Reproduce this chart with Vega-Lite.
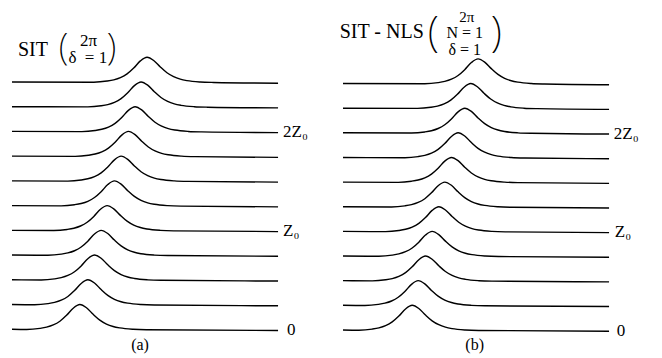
{
  "$schema": "https://vega.github.io/schema/vega-lite/v6.json",
  "padding": 0,
  "spacing": 0,
  "bounds": "flush",
  "config": {"view": {"stroke": null}, "text": {"font": "Liberation Serif", "color": "black"}},
  "datasets": {
    "curvesA": [
      {"k":0,"t":-5,"y":0.03},{"k":0,"t":-3.9,"y":0.021},{"k":0,"t":-2.9,"y":0.066},{"k":0,"t":-2.4,"y":0.116},{"k":0,"t":-1.9,"y":0.205},{"k":0,"t":-1.4,"y":0.356},{"k":0,"t":-0.9,"y":0.593},{"k":0,"t":-0.4,"y":0.881},{"k":0,"t":0.1,"y":1.03},{"k":0,"t":0.6,"y":0.9},{"k":0,"t":1.1,"y":0.635},{"k":0,"t":1.6,"y":0.401},{"k":0,"t":2.1,"y":0.242},{"k":0,"t":2.6,"y":0.143},{"k":0,"t":3.1,"y":0.085},{"k":0,"t":4.1,"y":0.029},{"k":0,"t":5.1,"y":0.01},{"k":0,"t":15,"y":-0.02},
      {"k":1,"t":-5,"y":1.03},{"k":1,"t":-3.3,"y":1.021},{"k":1,"t":-2.3,"y":1.066},{"k":1,"t":-1.8,"y":1.116},{"k":1,"t":-1.3,"y":1.205},{"k":1,"t":-0.8,"y":1.356},{"k":1,"t":-0.3,"y":1.593},{"k":1,"t":0.2,"y":1.881},{"k":1,"t":0.7,"y":2.03},{"k":1,"t":1.2,"y":1.9},{"k":1,"t":1.7,"y":1.635},{"k":1,"t":2.2,"y":1.401},{"k":1,"t":2.7,"y":1.242},{"k":1,"t":3.2,"y":1.143},{"k":1,"t":3.7,"y":1.085},{"k":1,"t":4.7,"y":1.029},{"k":1,"t":5.7,"y":1.01},{"k":1,"t":15,"y":0.98},
      {"k":2,"t":-5,"y":2.03},{"k":2,"t":-2.8,"y":2.021},{"k":2,"t":-1.8,"y":2.066},{"k":2,"t":-1.3,"y":2.116},{"k":2,"t":-0.8,"y":2.205},{"k":2,"t":-0.3,"y":2.356},{"k":2,"t":0.2,"y":2.593},{"k":2,"t":0.7,"y":2.881},{"k":2,"t":1.2,"y":3.03},{"k":2,"t":1.7,"y":2.9},{"k":2,"t":2.2,"y":2.635},{"k":2,"t":2.7,"y":2.401},{"k":2,"t":3.2,"y":2.242},{"k":2,"t":3.7,"y":2.143},{"k":2,"t":4.2,"y":2.085},{"k":2,"t":5.2,"y":2.029},{"k":2,"t":6.2,"y":2.01},{"k":2,"t":15,"y":1.98},
      {"k":3,"t":-5,"y":3.03},{"k":3,"t":-2.3,"y":3.021},{"k":3,"t":-1.3,"y":3.066},{"k":3,"t":-0.8,"y":3.116},{"k":3,"t":-0.3,"y":3.205},{"k":3,"t":0.2,"y":3.356},{"k":3,"t":0.7,"y":3.593},{"k":3,"t":1.2,"y":3.881},{"k":3,"t":1.7,"y":4.03},{"k":3,"t":2.2,"y":3.9},{"k":3,"t":2.7,"y":3.635},{"k":3,"t":3.2,"y":3.401},{"k":3,"t":3.7,"y":3.242},{"k":3,"t":4.2,"y":3.143},{"k":3,"t":4.7,"y":3.085},{"k":3,"t":5.7,"y":3.029},{"k":3,"t":6.7,"y":3.01},{"k":3,"t":15,"y":2.98},
      {"k":4,"t":-5,"y":4.03},{"k":4,"t":-1.85,"y":4.021},{"k":4,"t":-0.85,"y":4.066},{"k":4,"t":-0.35,"y":4.116},{"k":4,"t":0.15,"y":4.205},{"k":4,"t":0.65,"y":4.356},{"k":4,"t":1.15,"y":4.593},{"k":4,"t":1.65,"y":4.881},{"k":4,"t":2.15,"y":5.03},{"k":4,"t":2.65,"y":4.9},{"k":4,"t":3.15,"y":4.635},{"k":4,"t":3.65,"y":4.401},{"k":4,"t":4.15,"y":4.242},{"k":4,"t":4.65,"y":4.143},{"k":4,"t":5.15,"y":4.085},{"k":4,"t":6.15,"y":4.029},{"k":4,"t":7.15,"y":4.01},{"k":4,"t":15,"y":3.98},
      {"k":5,"t":-5,"y":5.03},{"k":5,"t":-1.3,"y":5.021},{"k":5,"t":-0.3,"y":5.066},{"k":5,"t":0.2,"y":5.116},{"k":5,"t":0.7,"y":5.205},{"k":5,"t":1.2,"y":5.356},{"k":5,"t":1.7,"y":5.593},{"k":5,"t":2.2,"y":5.881},{"k":5,"t":2.7,"y":6.03},{"k":5,"t":3.2,"y":5.9},{"k":5,"t":3.7,"y":5.635},{"k":5,"t":4.2,"y":5.401},{"k":5,"t":4.7,"y":5.242},{"k":5,"t":5.2,"y":5.143},{"k":5,"t":5.7,"y":5.085},{"k":5,"t":6.7,"y":5.029},{"k":5,"t":7.7,"y":5.01},{"k":5,"t":15,"y":4.98},
      {"k":6,"t":-5,"y":6.03},{"k":6,"t":-0.8,"y":6.021},{"k":6,"t":0.2,"y":6.066},{"k":6,"t":0.7,"y":6.116},{"k":6,"t":1.2,"y":6.205},{"k":6,"t":1.7,"y":6.356},{"k":6,"t":2.2,"y":6.593},{"k":6,"t":2.7,"y":6.881},{"k":6,"t":3.2,"y":7.03},{"k":6,"t":3.7,"y":6.9},{"k":6,"t":4.2,"y":6.635},{"k":6,"t":4.7,"y":6.401},{"k":6,"t":5.2,"y":6.242},{"k":6,"t":5.7,"y":6.143},{"k":6,"t":6.2,"y":6.085},{"k":6,"t":7.2,"y":6.029},{"k":6,"t":8.2,"y":6.01},{"k":6,"t":15,"y":5.98},
      {"k":7,"t":-5,"y":7.03},{"k":7,"t":-0.25,"y":7.021},{"k":7,"t":0.75,"y":7.066},{"k":7,"t":1.25,"y":7.116},{"k":7,"t":1.75,"y":7.205},{"k":7,"t":2.25,"y":7.356},{"k":7,"t":2.75,"y":7.593},{"k":7,"t":3.25,"y":7.881},{"k":7,"t":3.75,"y":8.03},{"k":7,"t":4.25,"y":7.9},{"k":7,"t":4.75,"y":7.635},{"k":7,"t":5.25,"y":7.401},{"k":7,"t":5.75,"y":7.242},{"k":7,"t":6.25,"y":7.143},{"k":7,"t":6.75,"y":7.085},{"k":7,"t":7.75,"y":7.029},{"k":7,"t":8.75,"y":7.01},{"k":7,"t":15,"y":6.98},
      {"k":8,"t":-5,"y":8.03},{"k":8,"t":0.25,"y":8.021},{"k":8,"t":1.25,"y":8.066},{"k":8,"t":1.75,"y":8.116},{"k":8,"t":2.25,"y":8.205},{"k":8,"t":2.75,"y":8.356},{"k":8,"t":3.25,"y":8.593},{"k":8,"t":3.75,"y":8.881},{"k":8,"t":4.25,"y":9.03},{"k":8,"t":4.75,"y":8.9},{"k":8,"t":5.25,"y":8.635},{"k":8,"t":5.75,"y":8.401},{"k":8,"t":6.25,"y":8.242},{"k":8,"t":6.75,"y":8.143},{"k":8,"t":7.25,"y":8.085},{"k":8,"t":8.25,"y":8.029},{"k":8,"t":9.25,"y":8.01},{"k":8,"t":15,"y":7.98},
      {"k":9,"t":-5,"y":9.03},{"k":9,"t":0.7,"y":9.021},{"k":9,"t":1.7,"y":9.066},{"k":9,"t":2.2,"y":9.116},{"k":9,"t":2.7,"y":9.205},{"k":9,"t":3.2,"y":9.356},{"k":9,"t":3.7,"y":9.593},{"k":9,"t":4.2,"y":9.881},{"k":9,"t":4.7,"y":10.03},{"k":9,"t":5.2,"y":9.9},{"k":9,"t":5.7,"y":9.635},{"k":9,"t":6.2,"y":9.401},{"k":9,"t":6.7,"y":9.242},{"k":9,"t":7.2,"y":9.143},{"k":9,"t":7.7,"y":9.085},{"k":9,"t":8.7,"y":9.029},{"k":9,"t":9.7,"y":9.01},{"k":9,"t":15,"y":8.98},
      {"k":10,"t":-5,"y":10.03},{"k":10,"t":1.15,"y":10.021},{"k":10,"t":2.15,"y":10.066},{"k":10,"t":2.65,"y":10.116},{"k":10,"t":3.15,"y":10.205},{"k":10,"t":3.65,"y":10.356},{"k":10,"t":4.15,"y":10.593},{"k":10,"t":4.65,"y":10.881},{"k":10,"t":5.15,"y":11.03},{"k":10,"t":5.65,"y":10.9},{"k":10,"t":6.15,"y":10.635},{"k":10,"t":6.65,"y":10.401},{"k":10,"t":7.15,"y":10.242},{"k":10,"t":7.65,"y":10.143},{"k":10,"t":8.15,"y":10.085},{"k":10,"t":9.15,"y":10.029},{"k":10,"t":10.15,"y":10.01},{"k":10,"t":15,"y":9.98}
    ],
    "curvesB": [
      {"k":0,"t":-5,"y":0.03},{"k":0,"t":-3.8,"y":0.021},{"k":0,"t":-2.8,"y":0.066},{"k":0,"t":-2.3,"y":0.116},{"k":0,"t":-1.8,"y":0.205},{"k":0,"t":-1.3,"y":0.356},{"k":0,"t":-0.8,"y":0.593},{"k":0,"t":-0.3,"y":0.881},{"k":0,"t":0.2,"y":1.03},{"k":0,"t":0.7,"y":0.9},{"k":0,"t":1.2,"y":0.635},{"k":0,"t":1.7,"y":0.401},{"k":0,"t":2.2,"y":0.242},{"k":0,"t":2.7,"y":0.143},{"k":0,"t":3.2,"y":0.085},{"k":0,"t":4.2,"y":0.029},{"k":0,"t":5.2,"y":0.01},{"k":0,"t":15,"y":-0.02},
      {"k":1,"t":-5,"y":1.03},{"k":1,"t":-3.35,"y":1.021},{"k":1,"t":-2.35,"y":1.066},{"k":1,"t":-1.85,"y":1.116},{"k":1,"t":-1.35,"y":1.205},{"k":1,"t":-0.85,"y":1.356},{"k":1,"t":-0.35,"y":1.593},{"k":1,"t":0.15,"y":1.881},{"k":1,"t":0.65,"y":2.03},{"k":1,"t":1.15,"y":1.9},{"k":1,"t":1.65,"y":1.635},{"k":1,"t":2.15,"y":1.401},{"k":1,"t":2.65,"y":1.242},{"k":1,"t":3.15,"y":1.143},{"k":1,"t":3.65,"y":1.085},{"k":1,"t":4.65,"y":1.029},{"k":1,"t":5.65,"y":1.01},{"k":1,"t":15,"y":0.98},
      {"k":2,"t":-5,"y":2.03},{"k":2,"t":-2.8,"y":2.021},{"k":2,"t":-1.8,"y":2.066},{"k":2,"t":-1.3,"y":2.116},{"k":2,"t":-0.8,"y":2.205},{"k":2,"t":-0.3,"y":2.356},{"k":2,"t":0.2,"y":2.593},{"k":2,"t":0.7,"y":2.881},{"k":2,"t":1.2,"y":3.03},{"k":2,"t":1.7,"y":2.9},{"k":2,"t":2.2,"y":2.635},{"k":2,"t":2.7,"y":2.401},{"k":2,"t":3.2,"y":2.242},{"k":2,"t":3.7,"y":2.143},{"k":2,"t":4.2,"y":2.085},{"k":2,"t":5.2,"y":2.029},{"k":2,"t":6.2,"y":2.01},{"k":2,"t":15,"y":1.98},
      {"k":3,"t":-5,"y":3.03},{"k":3,"t":-2.3,"y":3.021},{"k":3,"t":-1.3,"y":3.066},{"k":3,"t":-0.8,"y":3.116},{"k":3,"t":-0.3,"y":3.205},{"k":3,"t":0.2,"y":3.356},{"k":3,"t":0.7,"y":3.593},{"k":3,"t":1.2,"y":3.881},{"k":3,"t":1.7,"y":4.03},{"k":3,"t":2.2,"y":3.9},{"k":3,"t":2.7,"y":3.635},{"k":3,"t":3.2,"y":3.401},{"k":3,"t":3.7,"y":3.242},{"k":3,"t":4.2,"y":3.143},{"k":3,"t":4.7,"y":3.085},{"k":3,"t":5.7,"y":3.029},{"k":3,"t":6.7,"y":3.01},{"k":3,"t":15,"y":2.98},
      {"k":4,"t":-5,"y":4.03},{"k":4,"t":-1.8,"y":4.021},{"k":4,"t":-0.8,"y":4.066},{"k":4,"t":-0.3,"y":4.116},{"k":4,"t":0.2,"y":4.205},{"k":4,"t":0.7,"y":4.356},{"k":4,"t":1.2,"y":4.593},{"k":4,"t":1.7,"y":4.881},{"k":4,"t":2.2,"y":5.03},{"k":4,"t":2.7,"y":4.9},{"k":4,"t":3.2,"y":4.635},{"k":4,"t":3.7,"y":4.401},{"k":4,"t":4.2,"y":4.242},{"k":4,"t":4.7,"y":4.143},{"k":4,"t":5.2,"y":4.085},{"k":4,"t":6.2,"y":4.029},{"k":4,"t":7.2,"y":4.01},{"k":4,"t":15,"y":3.98},
      {"k":5,"t":-5,"y":5.03},{"k":5,"t":-1.35,"y":5.021},{"k":5,"t":-0.35,"y":5.066},{"k":5,"t":0.15,"y":5.116},{"k":5,"t":0.65,"y":5.205},{"k":5,"t":1.15,"y":5.356},{"k":5,"t":1.65,"y":5.593},{"k":5,"t":2.15,"y":5.881},{"k":5,"t":2.65,"y":6.03},{"k":5,"t":3.15,"y":5.9},{"k":5,"t":3.65,"y":5.635},{"k":5,"t":4.15,"y":5.401},{"k":5,"t":4.65,"y":5.242},{"k":5,"t":5.15,"y":5.143},{"k":5,"t":5.65,"y":5.085},{"k":5,"t":6.65,"y":5.029},{"k":5,"t":7.65,"y":5.01},{"k":5,"t":15,"y":4.98},
      {"k":6,"t":-5,"y":6.03},{"k":6,"t":-0.85,"y":6.021},{"k":6,"t":0.15,"y":6.066},{"k":6,"t":0.65,"y":6.116},{"k":6,"t":1.15,"y":6.205},{"k":6,"t":1.65,"y":6.356},{"k":6,"t":2.15,"y":6.593},{"k":6,"t":2.65,"y":6.881},{"k":6,"t":3.15,"y":7.03},{"k":6,"t":3.65,"y":6.9},{"k":6,"t":4.15,"y":6.635},{"k":6,"t":4.65,"y":6.401},{"k":6,"t":5.15,"y":6.242},{"k":6,"t":5.65,"y":6.143},{"k":6,"t":6.15,"y":6.085},{"k":6,"t":7.15,"y":6.029},{"k":6,"t":8.15,"y":6.01},{"k":6,"t":15,"y":5.98},
      {"k":7,"t":-5,"y":7.03},{"k":7,"t":-0.35,"y":7.021},{"k":7,"t":0.65,"y":7.066},{"k":7,"t":1.15,"y":7.116},{"k":7,"t":1.65,"y":7.205},{"k":7,"t":2.15,"y":7.356},{"k":7,"t":2.65,"y":7.593},{"k":7,"t":3.15,"y":7.881},{"k":7,"t":3.65,"y":8.03},{"k":7,"t":4.15,"y":7.9},{"k":7,"t":4.65,"y":7.635},{"k":7,"t":5.15,"y":7.401},{"k":7,"t":5.65,"y":7.242},{"k":7,"t":6.15,"y":7.143},{"k":7,"t":6.65,"y":7.085},{"k":7,"t":7.65,"y":7.029},{"k":7,"t":8.65,"y":7.01},{"k":7,"t":15,"y":6.98},
      {"k":8,"t":-5,"y":8.03},{"k":8,"t":0.15,"y":8.021},{"k":8,"t":1.15,"y":8.066},{"k":8,"t":1.65,"y":8.116},{"k":8,"t":2.15,"y":8.205},{"k":8,"t":2.65,"y":8.356},{"k":8,"t":3.15,"y":8.593},{"k":8,"t":3.65,"y":8.881},{"k":8,"t":4.15,"y":9.03},{"k":8,"t":4.65,"y":8.9},{"k":8,"t":5.15,"y":8.635},{"k":8,"t":5.65,"y":8.401},{"k":8,"t":6.15,"y":8.242},{"k":8,"t":6.65,"y":8.143},{"k":8,"t":7.15,"y":8.085},{"k":8,"t":8.15,"y":8.029},{"k":8,"t":9.15,"y":8.01},{"k":8,"t":15,"y":7.98},
      {"k":9,"t":-5,"y":9.03},{"k":9,"t":0.6,"y":9.021},{"k":9,"t":1.6,"y":9.066},{"k":9,"t":2.1,"y":9.116},{"k":9,"t":2.6,"y":9.205},{"k":9,"t":3.1,"y":9.356},{"k":9,"t":3.6,"y":9.593},{"k":9,"t":4.1,"y":9.881},{"k":9,"t":4.6,"y":10.03},{"k":9,"t":5.1,"y":9.9},{"k":9,"t":5.6,"y":9.635},{"k":9,"t":6.1,"y":9.401},{"k":9,"t":6.6,"y":9.242},{"k":9,"t":7.1,"y":9.143},{"k":9,"t":7.6,"y":9.085},{"k":9,"t":8.6,"y":9.029},{"k":9,"t":9.6,"y":9.01},{"k":9,"t":15,"y":8.98},
      {"k":10,"t":-5,"y":10.03},{"k":10,"t":1.15,"y":10.021},{"k":10,"t":2.15,"y":10.066},{"k":10,"t":2.65,"y":10.116},{"k":10,"t":3.15,"y":10.205},{"k":10,"t":3.65,"y":10.356},{"k":10,"t":4.15,"y":10.593},{"k":10,"t":4.65,"y":10.881},{"k":10,"t":5.15,"y":11.03},{"k":10,"t":5.65,"y":10.9},{"k":10,"t":6.15,"y":10.635},{"k":10,"t":6.65,"y":10.401},{"k":10,"t":7.15,"y":10.242},{"k":10,"t":7.65,"y":10.143},{"k":10,"t":8.15,"y":10.085},{"k":10,"t":9.15,"y":10.029},{"k":10,"t":10.15,"y":10.01},{"k":10,"t":15,"y":9.98}
    ]
  },
  "hconcat": [
    {
      "width": 331,
      "height": 358,
      "encoding": {
        "x": {"field": "t", "type": "quantitative", "scale": {"domain": [-5.902, 18.98], "nice": false, "zero": false}, "axis": null},
        "y": {"field": "y", "type": "quantitative", "scale": {"domain": [-1.132, 13.344], "nice": false, "zero": false}, "axis": null}
      },
      "layer": [
        {
          "data": {"name": "curvesA"},
          "mark": {"type": "line", "interpolate": "monotone", "color": "black", "strokeWidth": 1.4, "clip": false},
          "encoding": {"detail": {"field": "k", "type": "nominal"}}
        },
        {
          "data": {"values": [{"s": "SIT", "t": -4.549, "y": 11.06}]},
          "mark": {"type": "text", "align": "left", "baseline": "alphabetic", "fontSize": 20},
          "encoding": {"text": {"field": "s"}}
        },
        {
          "data": {"values": [{"s": "(", "t": -1.128, "y": 10.95}, {"s": ")", "t": 2.481, "y": 10.95}]},
          "mark": {"type": "text", "align": "center", "baseline": "alphabetic", "fontSize": 36, "font": "Noto Sans", "fontWeight": 200},
          "encoding": {"text": {"field": "s"}}
        },
        {
          "data": {"values": [{"s": "δ", "t": -0.451, "y": 10.8}, {"s": "2π", "t": 0.752, "y": 11.48}, {"s": "= 1", "t": 1.316, "y": 10.8}]},
          "mark": {"type": "text", "align": "center", "baseline": "alphabetic", "fontSize": 17},
          "encoding": {"text": {"field": "s"}}
        },
        {
          "data": {"values": [{"s": "2Z₀", "t": 15.376, "y": 8}, {"s": "Z₀", "t": 15.376, "y": 4}, {"s": "0", "t": 15.68, "y": 0}]},
          "mark": {"type": "text", "align": "left", "baseline": "middle", "fontSize": 17},
          "encoding": {"text": {"field": "s"}}
        },
        {
          "data": {"values": [{"s": "(a)", "t": 4.624, "y": -0.809}]},
          "mark": {"type": "text", "align": "center", "baseline": "alphabetic", "fontSize": 16},
          "encoding": {"text": {"field": "s"}}
        }
      ]
    },
    {
      "width": 331,
      "height": 358,
      "encoding": {
        "x": {"field": "t", "type": "quantitative", "scale": {"domain": [-5.902, 18.98], "nice": false, "zero": false}, "axis": null},
        "y": {"field": "y", "type": "quantitative", "scale": {"domain": [-1.108, 13.42], "nice": false, "zero": false}, "axis": null}
      },
      "layer": [
        {
          "data": {"name": "curvesB"},
          "mark": {"type": "line", "interpolate": "monotone", "color": "black", "strokeWidth": 1.4, "clip": false},
          "encoding": {"detail": {"field": "k", "type": "nominal"}}
        },
        {
          "data": {"values": [{"s": "SIT - NLS", "t": -5.248, "y": 11.86}]},
          "mark": {"type": "text", "align": "left", "baseline": "alphabetic", "fontSize": 20},
          "encoding": {"text": {"field": "s"}}
        },
        {
          "data": {"values": [{"s": "(", "t": 1.78, "y": 11.55}, {"s": ")", "t": 6.52, "y": 11.55}]},
          "mark": {"type": "text", "align": "center", "baseline": "alphabetic", "fontSize": 42, "font": "Noto Sans", "fontWeight": 200},
          "encoding": {"text": {"field": "s"}}
        },
        {
          "data": {"values": [{"s": "2π", "t": 4.3, "y": 12.53}]},
          "mark": {"type": "text", "align": "center", "baseline": "alphabetic", "fontSize": 15},
          "encoding": {"text": {"field": "s"}}
        },
        {
          "data": {"values": [{"s": "N = 1", "t": 4.15, "y": 11.86}, {"s": "δ  = 1", "t": 4.15, "y": 11.2}]},
          "mark": {"type": "text", "align": "center", "baseline": "alphabetic", "fontSize": 16},
          "encoding": {"text": {"field": "s"}}
        },
        {
          "data": {"values": [{"s": "2Z₀", "t": 15.353, "y": 8}, {"s": "Z₀", "t": 15.43, "y": 4}, {"s": "0", "t": 15.58, "y": 0}]},
          "mark": {"type": "text", "align": "left", "baseline": "middle", "fontSize": 17},
          "encoding": {"text": {"field": "s"}}
        },
        {
          "data": {"values": [{"s": "(b)", "t": 4.9, "y": -0.783}]},
          "mark": {"type": "text", "align": "center", "baseline": "alphabetic", "fontSize": 16},
          "encoding": {"text": {"field": "s"}}
        }
      ]
    }
  ]
}
